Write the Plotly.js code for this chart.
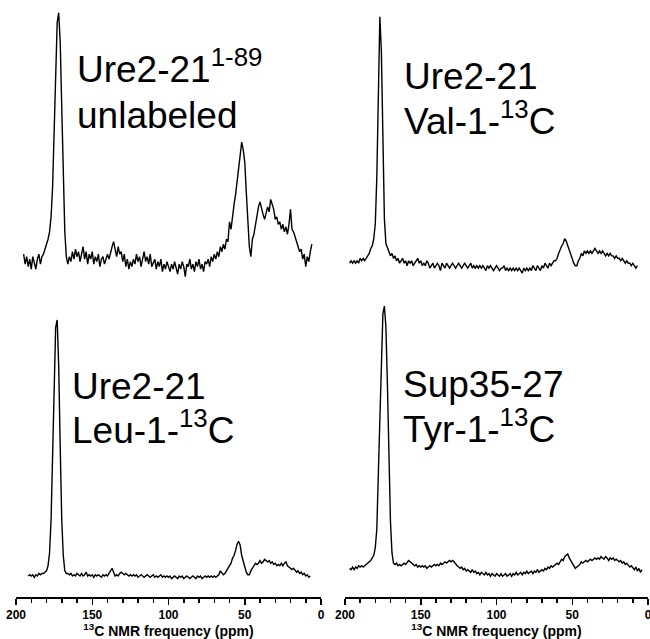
<!DOCTYPE html>
<html>
<head>
<meta charset="utf-8">
<script src="https://cdn.plot.ly/plotly-3.0.1.min.js"></script>
<style>html,body{margin:0;padding:0;background:#fff;}#plot{width:650px;height:639px;}</style>
</head>
<body>
<div id="plot"></div>
<script>
// 13C chemical shift grid (ppm)
const ppm = [
197,196,195,194,193,192,191,190,189,188,
187,186,185,184,183,182,181,180,179,178,
177,176,175,174,173,172,171,170,169,168,
167,166,165,164,163,162,161,160,159,158,
157,156,155,154,153,152,151,150,149,148,
147,146,145,144,143,142,141,140,139,138,
137,136,135,134,133,132,131,130,129,128,
127,126,125,124,123,122,121,120,119,118,
117,116,115,114,113,112,111,110,109,108,
107,106,105,104,103,102,101,100,99,98,
97,96,95,94,93,92,91,90,89,88,
87,86,85,84,83,82,81,80,79,78,
77,76,75,74,73,72,71,70,69,68,
67,66,65,64,63,62,61,60,59,58,
57,56,55,54,53,52,51,50,49,48,
47,46,45,44,43,42,41,40,39,38,
37,36,35,34,33,32,31,30,29,28,
27,26,25,24,23,22,21,20,19,18,
17,16,15,14,13,12,11,10,9,8,
7,6,5,4];

// Ure2-21 (1-89) unlabeled (relative intensity, main peak = 100)
const ure2Unlabeled = [null,null,
3,-1,2,-2,1,-3,2,0,-3,1,
3,-1,2,3,5,6,9,12,18,30,
52,80,96,100,88,62,36,12,2,-1,
2,0,4,1,5,2,4,0,3,6,
1,4,-1,3,1,4,-1,2,0,3,
-2,1,2,-1,1,3,1,4,6,8,
5,2,6,3,4,0,3,-2,1,-3,
0,-2,1,-1,3,0,2,-2,1,4,
0,2,-1,3,-2,0,1,-3,0,-2,
1,-4,-1,-3,0,-2,-4,-1,-3,0,
-2,-5,-1,-3,0,-2,-6,-1,-2,1,
-3,-1,-4,0,-2,1,-3,-1,-4,0,
-1,1,-2,2,0,3,1,4,2,6,
4,7,5,9,8,16,13,19,23,27,
32,38,44,48,45,40,28,15,6,2,
9,11,15,19,22,24,21,19,17,19,
22,20,25,23,21,17,18,15,16,13,
15,12,14,11,15,21,13,12,10,8,
7,4,5,1,3,-2,2,0,4,7,
null,null];

// Ure2-21 Val-1-13C
const ure2Val = [
0,1,0,1,0,1,0,2,1,2,
1,2,3,4,6,7,10,16,35,72,
100,86,48,18,8,6,5,3,4,2,
3,1,2,0,1,2,0,1,-1,1,
0,1,-1,0,1,2,0,1,-1,0,
-1,1,0,-2,-1,0,-2,-1,0,-1,
-3,0,-1,-2,0,-1,-2,-1,0,-1,
-2,-1,0,-1,-2,-1,0,-1,-2,-1,
0,-2,-1,-2,-1,-2,-1,-2,-1,-2,
-3,-1,-2,-1,-2,-3,-2,-1,-2,-3,
-2,-2,-1,-3,-2,-3,-2,-3,-2,-3,
-2,-3,-2,-3,-4,-2,-3,-2,-3,-2,
-3,-1,-2,-3,-1,-2,-3,-1,-2,0,
-1,-2,0,-1,0,1,1,2,4,6,
7,8,10,9,7,5,3,1,0,-1,
-1,1,2,4,3,5,4,5,4,5,
4,5,6,5,4,5,4,5,4,3,
4,3,4,3,3,2,3,2,2,1,
2,1,0,1,0,0,-1,0,-1,-2,
-1,null,null,null];

// Ure2-21 Leu-1-13C
const ure2Leu = [null,null,null,null,null,
0,0.5,0,0.5,-0.5,0.5,0,1,0.5,1,
1,1.5,2,4,9,22,48,80,97,100,
82,50,22,8,2,1,1,0.5,1,0,
0.5,0,1,0.5,0,1,0,0.5,1.5,0,
0.5,0,0.5,-0.5,0.5,0,0.5,0,-0.5,0.5,
0,0.5,0,1,2,3,1.5,0,0.5,0,
1,1.5,1,0.5,1,0.5,0,0.5,0,0.5,
0,0.5,-0.5,0,0.5,0,-0.5,0,0.5,0,
-0.5,0,0.5,-0.5,0,-0.5,0,0.5,-0.5,0,
-0.5,0,-0.5,0,-1,-0.5,0,-0.5,-1,0,
-0.5,0,-1,-0.5,0,-0.5,-1,-0.5,0,-0.5,
-1,0,-0.5,0,-1,-0.5,0,-0.5,0,-0.5,
0,-0.5,0,-0.5,0,0.5,2,1,0.5,1,
2,3,3.5,5,7,8,10,12.5,13.5,12,
8,5.5,3,1.5,0.5,0.5,2,3,4,5,
4.5,5,6,5,5.5,6.5,6,5.5,6,5,
5.5,4.5,5,4,4.5,4,5,4,5,5.5,
4,3.5,3,2.5,3,2,1.5,2,1,1.5,
0.5,1,0,0.5,-0.5,0,
null,null,null];

// Sup35-27 Tyr-1-13C
const sup35Tyr = [
0,-0.5,0.5,-0.5,0.5,0,1,0.5,1,0.5,
1,1.5,2,2.5,3,4,5,8,15,36,
55,82,97,100,92,70,42,18,6,2,
1.5,2,1,1.5,1,1.5,2,1.5,2.5,3,
2.5,2,1.5,1,1.5,0.5,1,0.5,1,0.5,
1,0,0.5,1,0.5,1,1.5,1,1.5,1,
2,1.5,2,2.5,2,2.5,3,2.5,3,2.5,
1.5,1,0.5,0,0.5,-0.5,0,-1,-0.5,-1,
-1.5,-0.5,-1.5,-1,-2,-1.5,-2.5,-1.5,-2,-2.5,
-1.5,-2.5,-2,-3,-2,-2.5,-3,-2,-2.5,-3,
-2,-3,-2.5,-2,-3,-2.5,-2,-3,-2,-2.5,
-1.5,-2.5,-2,-1.5,-2.5,-1.5,-2,-1,-2,-1.5,
-1,-2,-1,-1.5,-0.5,-1.5,-1,-0.5,-1,0,
-0.5,0.5,0,1,0.5,1,1.5,2,1.5,2.5,
3.5,3,4.5,5,5.5,4,3,1.5,1,0,
0.5,1,1.5,2.5,2,2.5,3,2.5,3,3.5,
3,3.5,4,3.5,4,3.5,4.5,4,3.5,4.5,
4,3,4,3.5,4,3,3.5,3,2.5,3,
2,2.5,1.5,2,1,0.5,1,0,-0.5,0.5,
-1,0,-1.5,-0.5];

// panel label lines (top-left, top-right, bottom-left, bottom-right)
const labelLine1 = ["Ure2-21<sup>1-89</sup>", "Ure2-21", "Ure2-21", "Sup35-27"];
const labelLine2 = ["unlabeled", "Val-1-<sup>13</sup>C", "Leu-1-<sup>13</sup>C", "Tyr-1-<sup>13</sup>C"];
const tickVals = [0, 50, 100, 150, 200];
const axisTitle = "<sup>13</sup>C NMR frequency (ppm)";

const FONT = "Liberation Sans, Arial, Helvetica, sans-serif";
const W = 650, H = 639;
const px = v => v / W;
const py = v => 1 - v / H;

const lineStyle = {color: "#000", width: 1.4};
const traces = [
  {x: ppm, y: ure2Unlabeled, xaxis: "x3", yaxis: "y3", name: "Ure2-21 1-89 unlabeled"},
  {x: ppm, y: ure2Val, xaxis: "x4", yaxis: "y4", name: "Ure2-21 Val-1-13C"},
  {x: ppm, y: ure2Leu, xaxis: "x", yaxis: "y", name: "Ure2-21 Leu-1-13C"},
  {x: ppm, y: sup35Tyr, xaxis: "x2", yaxis: "y2", name: "Sup35-27 Tyr-1-13C"}
].map(t => Object.assign(t, {type: "scatter", mode: "lines", line: lineStyle, connectgaps: false, hoverinfo: "skip"}));

const leftDom = [px(16), px(321)];
const rightDom = [px(345), px(648)];
const botDom = [py(597), py(300)];
const topDom = [py(297), 1];

function visX(dom, anchor) {
  return {
    domain: dom, anchor: anchor, range: [200, 0], autorange: false,
    showline: true, linecolor: "#000", linewidth: 1.5, mirror: false,
    showgrid: false, zeroline: false,
    ticks: "outside", ticklen: 6, tickwidth: 1.5, tickcolor: "#000",
    tickmode: "array", tickvals: tickVals, ticktext: tickVals.map(String),
    ticklabeloverflow: "allow",
    tickfont: {family: FONT, size: 12, color: "#000", weight: "bold"},
    minor: {dtick: 10, tick0: 0, ticks: "outside", ticklen: 4, tickwidth: 1.5, tickcolor: "#000", showgrid: false},
    title: {text: axisTitle, font: {family: FONT, size: 14, color: "#000", weight: "bold"}, standoff: 2}
  };
}
function hidX(dom, anchor) {
  return {domain: dom, anchor: anchor, range: [200, 0], autorange: false, visible: false, showgrid: false, zeroline: false};
}
function hidY(dom, anchor, rng) {
  return {domain: dom, anchor: anchor, range: rng, autorange: false, visible: false, showgrid: false, zeroline: false};
}

const FS = 37;
const annFont = {family: FONT, size: FS, color: "#000"};
// left x and text baselines of each label (px)
const labelX = [76, 402.5, 71, 402];
const base1 = [81.7, 89, 399, 397.3];
const base2 = [128.3, 134, 443.3, 441.7];
const annotations = [];
labelLine1.forEach((t, i) => {
  [[t, base1[i]], [labelLine2[i], base2[i]]].forEach(([txt, b]) => {
    annotations.push({
      text: txt, xref: "paper", yref: "paper", x: px(labelX[i]), y: py(b + 0.212 * FS + 1),
      xanchor: "left", yanchor: "bottom", align: "left", showarrow: false, font: annFont, borderpad: 0
    });
  });
});

const layout = {
  width: W, height: H,
  margin: {l: 0, r: 0, t: 0, b: 0, pad: 0},
  paper_bgcolor: "#fff", plot_bgcolor: "#fff",
  showlegend: false,
  font: {family: FONT, color: "#000"},
  xaxis: visX(leftDom, "y"),
  xaxis2: visX(rightDom, "y2"),
  xaxis3: hidX(leftDom, "y3"),
  xaxis4: hidX(rightDom, "y4"),
  yaxis: hidY(botDom, "x", [-8.2, 107.8]),
  yaxis2: hidY(botDom, "x2", [-10.9, 102.3]),
  yaxis3: hidY(topDom, "x3", [-14.2, 105.1]),
  yaxis4: hidY(topDom, "x4", [-13.7, 106.8]),
  annotations: annotations
};

Plotly.newPlot("plot", traces, layout, {staticPlot: true, displayModeBar: false});
</script>
</body>
</html>
